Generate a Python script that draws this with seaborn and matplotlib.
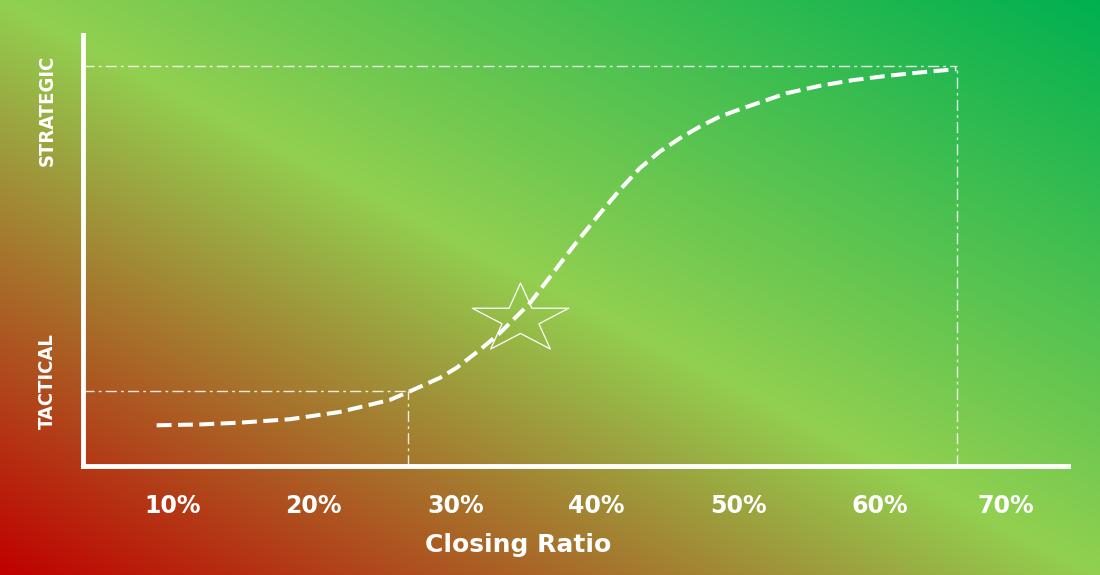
import numpy as np
import pandas as pd
import matplotlib
matplotlib.use("Agg")
import matplotlib.pyplot as plt
import matplotlib.transforms as mtransforms
from matplotlib import font_manager
from matplotlib.path import Path
import seaborn as sns

# Closing ratio (%) vs. position on the tactical -> strategic scale (0-100)
closing_ratio = [8.90, 11.94, 14.77, 18.30, 21.84, 25.37, 26.69, 28.90, 30.08,
                 31.73, 33.14, 35.27, 38.33, 40.21, 41.63, 43.04, 44.45,
                 45.87, 47.28, 48.69, 50.11, 51.52, 53.41, 55.76, 58.09, 60.47,
                 62.84, 65.42]
strategy_level = [9.44, 9.63, 10.05, 10.84, 12.53, 15.31, 17.17, 20.42, 22.74,
                  26.91, 30.79, 37.75, 50.88, 58.53, 64.04, 69.07, 72.92,
                  76.03, 78.72, 81.04, 82.75, 84.34, 86.47, 88.20, 89.51, 90.50,
                  91.30, 92.07]

# reference points
tactical_pt = (26.69, 17.47)
strategic_pt = (65.46, 92.81)
star_pt = (34.56, 34.06)

# axis labels
xtick_pos = [10, 20, 30, 40, 50, 60, 68.9]
xtick_labels = ["10%", "20%", "30%", "40%", "50%", "60%", "70%"]
ylabel_pos = [82.4, 19.7]
ylabel_text = ["STRATEGIC", "TACTICAL"]

# gradient stops (Office colours)
grad_colors = ["#C00000", "#92D050", "#00B050"]


def has_condensed(family):
    for f in font_manager.fontManager.ttflist:
        if f.name == family and "ondensed" in f.fname:
            return True
    return False


sns.set_style("white")
plt.rcParams["font.family"] = ["DejaVu Sans"]

fig = plt.figure(figsize=(11, 5.75), dpi=100)

# background gradient, diagonal from bottom-left to top-right
ax_bg = fig.add_axes([0, 0, 1, 1], zorder=0)
gx, gy = np.meshgrid(np.linspace(0, 1, 550), np.linspace(1, 0, 290))
t = (gx + gy) / 2
stops = np.array([matplotlib.colors.to_rgb(c) for c in grad_colors])
img = np.zeros(t.shape + (3,))
for ch in range(3):
    img[..., ch] = np.interp(t, [0, 0.5, 1], stops[:, ch])
ax_bg.imshow(img, aspect="auto", extent=[0, 1, 0, 1], interpolation="bilinear")
ax_bg.set_axis_off()

ax = fig.add_axes([0.0752, 0.1896, 0.8955, 0.7496], zorder=1)
ax.patch.set_alpha(0)
ax.set_xlim(3.675, 73.29)
ax.set_ylim(0, 100)

df = pd.DataFrame({"ratio": closing_ratio, "level": strategy_level})
sns.lineplot(data=df, x="ratio", y="level", sort=False, ax=ax,
             color="white", linewidth=2.9)
curve = ax.lines[-1]
curve.set_dashes((3.7, 1.6))
curve.set_dash_capstyle("butt")
curve.set_dash_joinstyle("round")

# dash-dot guides
x0 = ax.get_xlim()[0]
guide = dict(color="white", linewidth=1.0, alpha=0.85, dashes=(8, 3, 2, 3))
for gx_, gy_ in (tactical_pt, strategic_pt):
    ax.plot([x0, gx_], [gy_, gy_], **guide)
    ax.plot([gx_, gx_], [0, gy_], **guide)

# star outline (stretched horizontally like the original)
ang = np.deg2rad(90 + 36 * np.arange(10))
rad = np.where(np.arange(10) % 2 == 0, 1.0, 0.382)
verts = np.column_stack([1.39 * rad * np.cos(ang), rad * np.sin(ang)])
verts = np.vstack([verts, verts[:1]])
star = Path(verts, [Path.MOVETO] + [Path.LINETO] * 9 + [Path.CLOSEPOLY])
ax.plot([star_pt[0]], [star_pt[1]], marker=star, markersize=69.5,
        markerfacecolor="none", markeredgecolor="white", markeredgewidth=0.9,
        linestyle="none")

# axes styling
for side in ("top", "right"):
    ax.spines[side].set_visible(False)
for side in ("left", "bottom"):
    ax.spines[side].set_color("white")
    ax.spines[side].set_linewidth(3.5)
ax.grid(False)
ax.set_yticks([])
ax.set_xticks(xtick_pos)
ax.set_xticklabels(xtick_labels, color="white", fontsize=17, fontweight="bold")
ax.tick_params(axis="x", length=0, pad=20)
ax.set_ylabel("")
ax.set_xlabel("Closing Ratio", color="white", fontsize=18, fontweight="bold")
ax.xaxis.set_label_coords(0.4424, -0.155)

# rotated level labels, condensed if such a face is installed
if has_condensed("DejaVu Sans"):
    lab_kw = dict(family=["DejaVu Sans"], fontstretch="condensed", fontsize=14.5)
else:
    lab_kw = dict(family=["DejaVu Sans"], fontsize=13)
trans = mtransforms.blended_transform_factory(fig.transFigure, ax.transData)
for yv, txt in zip(ylabel_pos, ylabel_text):
    ax.text(0.0427, yv, txt, transform=trans, rotation=90, ha="center",
            va="center", color="white", fontweight="bold", **lab_kw)

fig.savefig("out.png", dpi=100)
